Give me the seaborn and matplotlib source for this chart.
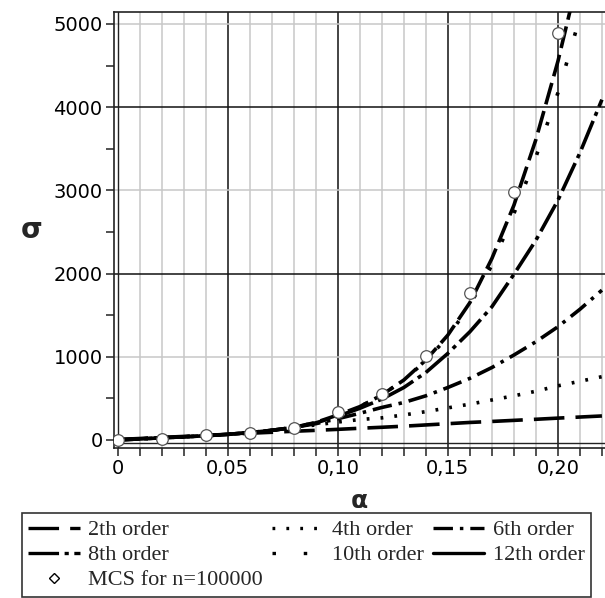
import numpy as np
import matplotlib
matplotlib.use('Agg')
import matplotlib.pyplot as plt
from matplotlib.lines import Line2D
import seaborn as sns

# Series (sigma vs alpha)
alpha = [0.00, 0.01, 0.02, 0.03, 0.04, 0.05, 0.06, 0.07, 0.08, 0.09, 0.10, 0.11,
         0.12, 0.13, 0.14, 0.15, 0.16, 0.17, 0.18, 0.19, 0.20, 0.21, 0.22]

order_2 = [5, 17, 30, 42, 55, 67, 80, 92, 104, 115, 127, 140,
           152, 165, 180, 195, 210, 222, 235, 248, 262, 275, 288]
order_4 = [0, 12, 25, 37, 50, 67, 88, 115, 150, 180, 215, 245,
           265, 300, 340, 385, 430, 480, 530, 585, 650, 705, 760]
order_6 = [0, 12, 25, 37, 50, 67, 88, 115, 150, 195, 255, 320,
           390, 450, 530, 630, 740, 870, 1020, 1180, 1360, 1570, 1800]
order_8 = [0, 12, 25, 37, 50, 67, 88, 115, 150, 205, 285, 380,
           490, 630, 810, 1040, 1300, 1600, 1990, 2400, 2880, 3450, 4090]
order_10 = [0, 12, 25, 37, 50, 67, 88, 115, 150, 210, 300, 400,
            540, 720, 950, 1240, 1620, 2100, 2720, 3400, 4170, 5080, 6100]
order_12 = [0, 12, 25, 37, 50, 67, 88, 115, 150, 210, 300, 400,
            540, 720, 960, 1260, 1650, 2180, 2820, 3610, 4550, 5650, 7000]

mcs_alpha = [0.00, 0.02, 0.04, 0.06, 0.08, 0.10, 0.12, 0.14, 0.16, 0.18, 0.20]
mcs_sigma = [0, 10, 60, 88, 145, 330, 553, 1010, 1767, 2985, 4890]

x_labels = ['0', '0,05', '0,10', '0,15', '0,20']
y_labels = ['0', '1000', '2000', '3000', '4000', '5000']

sns.set_style('white')
plt.rcParams['lines.scale_dashes'] = False

fig = plt.figure(figsize=(6.05, 5.98), dpi=100)
ax = fig.add_axes([0.188, 0.251, 0.812, 0.729])

# grid: gray every 0.01 / odd thousands, black at 0.05 multiples / even thousands
for i in range(1, 23):
    c = '#111111' if i % 5 == 0 else '#c8c8c8'
    ax.axvline(i / 100, color=c, lw=1.1, zorder=0)
for k in range(1, 6):
    c = '#111111' if k % 2 == 0 else '#c8c8c8'
    ax.axhline(k * 1000, color=c, lw=1.1, zorder=0)
ax.axvline(0, color='#222222', lw=1.0, zorder=1)
ax.axhline(-40, color='#222222', lw=1.0, zorder=1)

lw = 2.6
styles = {
    '2th order': (order_2, (0, (22, 8))),
    '4th order': (order_4, (0, (2, 8))),
    '6th order': (order_6, (0, (14, 5, 2.5, 5))),
    '8th order': (order_8, (0, (22, 4, 3, 4))),
    '10th order': (order_10, (0, (2.5, 20))),
    '12th order': (order_12, (0, (16, 5))),
}
for name, (vals, ls) in styles.items():
    sns.lineplot(x=alpha, y=vals, color='black', lw=lw, linestyle=ls, ax=ax, zorder=3)

sns.scatterplot(x=mcs_alpha, y=mcs_sigma, marker='o', s=70, facecolor='white',
                edgecolor='#555555', linewidth=0.9, ax=ax, zorder=4)

ax.set_xlim(-0.0018, 0.2214)
ax.set_ylim(-96, 5144)
ax.set_xticks([0, 0.05, 0.10, 0.15, 0.20])
ax.set_xticklabels(x_labels)
ax.set_xticks(np.arange(0, 0.225, 0.01), minor=True)
ax.set_yticks([0, 1000, 2000, 3000, 4000, 5000])
ax.set_yticklabels(y_labels)
ax.set_yticks([500, 1500, 2500, 3500, 4500], minor=True)
ax.tick_params(which='both', direction='out', length=6, width=1.1, color='#222222',
               labelsize=14, labelcolor='black', pad=2, bottom=True, left=True)
for s in ['left', 'bottom', 'top']:
    ax.spines[s].set_color('#222222')
    ax.spines[s].set_linewidth(1.2)
ax.spines['right'].set_visible(False)

ax.set_xlabel('α', fontsize=18, fontweight='bold', labelpad=8)
ax.set_ylabel('σ', fontsize=20, fontweight='bold', rotation=0, labelpad=16, va='center')

def h(ls, marker=None):
    if marker:
        return Line2D([], [], color='black', lw=0, marker=marker, markersize=5,
                      markerfacecolor='white', markeredgecolor='black')
    return Line2D([], [], color='black', lw=2.4, linestyle=ls)

handles = [h(styles['2th order'][1]), h(styles['8th order'][1]), h(None, 'D'),
           h(styles['4th order'][1]), h(styles['10th order'][1]),
           h(styles['6th order'][1]), h('-')]
labels = ['2th order', '8th order', 'MCS for n=100000',
          '4th order', '10th order', '6th order', '12th order']
leg = fig.legend(handles, labels, ncol=3, loc='upper left', bbox_to_anchor=(0.036, 0.142),
                 prop={'family': 'Liberation Serif', 'size': 16}, frameon=True,
                 fancybox=False, edgecolor='black', handlelength=2.3, handletextpad=0.4,
                 columnspacing=0.4, labelspacing=0.2, borderpad=0.3, borderaxespad=0)
leg.get_frame().set_linewidth(1.2)

fig.savefig('out.png', dpi=100)
